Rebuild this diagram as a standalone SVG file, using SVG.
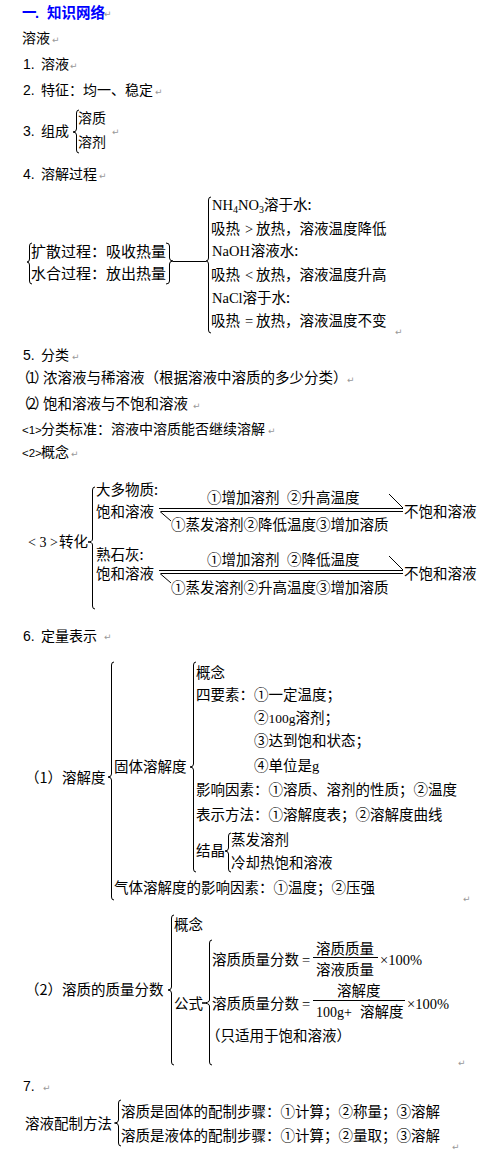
<svg xmlns="http://www.w3.org/2000/svg" width="489" height="1175" viewBox="0 0 489 1175">
<style>
.t{font-family:"Noto Sans CJK SC",sans-serif;font-size:14.5px;fill:#000}
.s14{font-size:14px}
.s15{font-size:15px}
.l{font-family:"Liberation Serif","Noto Sans CJK SC",serif}
.n{font-family:"Liberation Sans","Noto Sans CJK SC",sans-serif}
.ttl{font-weight:bold;fill:#0000ff}
.pm{font-family:"DejaVu Sans",sans-serif;font-size:9px;fill:#999}
.br{fill:none;stroke:#000;stroke-width:1}
.ln{fill:none;stroke:#000;stroke-width:1}
</style>
<rect width="489" height="1175" fill="#fff"/>

<g id="title"><text class="t ttl" x="22" y="18">一<tspan class="n" x="35">.</tspan><tspan x="47">知识网络</tspan></text></g>
<g id="rongye"><text class="t s14" x="22" y="43">溶液</text></g>
<g id="item1"><text class="t s14" y="69"><tspan class="n" x="23">1.</tspan><tspan x="41">溶液</tspan></text></g>
<g id="item2"><text class="t s14" y="95"><tspan class="n" x="23">2.</tspan><tspan x="41">特征：均一、稳定</tspan></text></g>
<g id="item3"><text class="t s14" y="136"><tspan class="n" x="23">3.</tspan><tspan x="41">组成</tspan></text></g>
<g id="item3a"><text class="t s14" x="78" y="123">溶质</text></g>
<g id="item3b"><text class="t s14" x="78" y="147">溶剂</text></g>
<g id="item4"><text class="t s14" y="179"><tspan class="n" x="23">4.</tspan><tspan x="41">溶解过程</tspan></text></g>

<g id="kuosan"><text class="t s15" x="31" y="257">扩散过程：吸收热量</text></g>
<g id="shuihe"><text class="t s15" x="31" y="279">水合过程：放出热量</text></g>
<g id="nh4no3"><text class="t" y="210"><tspan class="l" x="212">NH</tspan><tspan class="l" font-size="10" dy="3">4</tspan><tspan class="l" dy="-3">NO</tspan><tspan class="l" font-size="10" dy="3">3</tspan><tspan dy="-3">溶于水:</tspan></text></g>
<g id="xr1"><text class="t" y="234"><tspan x="211">吸热</tspan><tspan class="l" x="245">&gt;</tspan><tspan x="256">放热，溶液温度降低</tspan></text></g>
<g id="naoh"><text class="t" y="256"><tspan class="l" x="212">NaOH</tspan><tspan dx="1">溶液水:</tspan></text></g>
<g id="xr2"><text class="t" y="280"><tspan x="211">吸热</tspan><tspan class="l" x="245">&lt;</tspan><tspan x="256">放热，溶液温度升高</tspan></text></g>
<g id="nacl"><text class="t" y="303"><tspan class="l" x="212">NaCl</tspan><tspan>溶于水:</tspan></text></g>
<g id="xr3"><text class="t" y="326"><tspan x="211">吸热</tspan><tspan class="l" x="245">=</tspan><tspan x="256">放热，溶液温度不变</tspan></text></g>

<g id="item5"><text class="t s14" y="360"><tspan class="n" x="23">5.</tspan><tspan x="41">分类</tspan></text></g>
<g id="item5-1"><text class="t" y="383" x="16 28 34 43">（1）浓溶液与稀溶液（根据溶液中溶质的多少分类）</text></g>
<g id="item5-2"><text class="t" y="409" x="16 28 34 43">（2）饱和溶液与不饱和溶液</text></g>
<g id="std"><text class="t s14" y="434"><tspan class="n" font-size="11.5" x="22">&lt;1&gt;</tspan><tspan x="41">分类标准：溶液中溶质能否继续溶解</tspan></text></g>
<g id="concept"><text class="t s14" y="457"><tspan class="n" font-size="11.5" x="22">&lt;2&gt;</tspan><tspan x="41">概念</tspan></text></g>

<g id="zhuanhua"><text class="t" y="547"><tspan class="l" font-size="14" x="28">&lt; 3 &gt;</tspan><tspan x="59">转化</tspan></text></g>
<g id="dwz"><text class="t" x="96" y="495">大多物质:</text></g>
<g id="bh1"><text class="t" x="96" y="517">饱和溶液</text></g>
<g id="up1"><text class="t" y="503"><tspan x="207">①增加溶剂</tspan><tspan x="287">②升高温度</tspan></text></g>
<g id="dn1"><text class="t" x="171" y="530">①蒸发溶剂②降低温度③增加溶质</text></g>
<g id="bbh1"><text class="t" x="404" y="517">不饱和溶液</text></g>
<g id="ssh"><text class="t" x="96" y="560">熟石灰:</text></g>
<g id="bh2"><text class="t" x="96" y="579">饱和溶液</text></g>
<g id="up2"><text class="t" y="565"><tspan x="207">①增加溶剂</tspan><tspan x="287">②降低温度</tspan></text></g>
<g id="dn2"><text class="t" x="171" y="593">①蒸发溶剂②升高温度③增加溶质</text></g>
<g id="bbh2"><text class="t" x="404" y="579">不饱和溶液</text></g>

<g id="item6"><text class="t s14" y="641"><tspan class="n" x="23">6.</tspan><tspan x="41">定量表示</tspan></text></g>
<g id="rjd"><text class="t" y="783"><tspan x="25">（1）</tspan><tspan x="62">溶解度</tspan></text></g>
<g id="gtrjd"><text class="t" x="114" y="772">固体溶解度</text></g>
<g id="gn1"><text class="t" x="196" y="678">概念</text></g>
<g id="sys"><text class="t" y="700"><tspan x="196">四要素：</tspan><tspan x="254">①一定温度；</tspan></text></g>
<g id="sys2"><text class="t" y="723"><tspan x="254">②</tspan><tspan class="l" font-size="13.5">100g</tspan><tspan>溶剂；</tspan></text></g>
<g id="sys3"><text class="t" x="254" y="746">③达到饱和状态；</text></g>
<g id="sys4"><text class="t" y="771"><tspan x="254">④单位是</tspan><tspan class="l">g</tspan></text></g>
<g id="yxys"><text class="t" x="196" y="795">影响因素：①溶质、溶剂的性质；②温度</text></g>
<g id="bsff"><text class="t" x="196" y="820">表示方法：①溶解度表；②溶解度曲线</text></g>
<g id="jj"><text class="t" x="196" y="856">结晶</text></g>
<g id="zfrj"><text class="t" x="231" y="845">蒸发溶剂</text></g>
<g id="lqr"><text class="t" x="231" y="868">冷却热饱和溶液</text></g>
<g id="qtrjd"><text class="t" x="114" y="893">气体溶解度的影响因素：①温度；②压强</text></g>

<g id="zlfs"><text class="t" y="995"><tspan x="25">（2）</tspan><tspan x="62">溶质的质量分数</tspan></text></g>
<g id="gn2"><text class="t" x="174" y="930">概念</text></g>
<g id="gs"><text class="t" x="174" y="1009">公式</text></g>
<g id="f1"><text class="t" y="965"><tspan x="212">溶质质量分数</tspan><tspan class="l" x="302">=</tspan></text>
<text class="t" x="316" y="954">溶质质量</text><text class="t" x="316" y="975">溶液质量</text>
<text class="t l" font-size="14" x="380" y="965">×100%</text></g>
<g id="f2"><text class="t" y="1009"><tspan x="212">溶质质量分数</tspan><tspan class="l" x="302">=</tspan></text>
<text class="t" x="337" y="996">溶解度</text><text class="t" y="1017"><tspan class="l" font-size="14" x="316">100g+</tspan><tspan x="360">溶解度</tspan></text>
<text class="t l" font-size="14" x="407" y="1009">×100%</text></g>
<g id="zsy"><text class="t" x="206" y="1041">（只适用于饱和溶液）</text></g>

<g id="item7"><text class="t n s14" x="23" y="1091">7.</text></g>
<g id="pzff"><text class="t" x="25" y="1129">溶液配制方法</text></g>
<g id="pz1"><text class="t" x="121" y="1117">溶质是固体的配制步骤：①计算；②称量；③溶解</text></g>
<g id="pz2"><text class="t" x="121" y="1141">溶质是液体的配制步骤：①计算；②量取；③溶解</text></g>

<g id="marks" class="pm">
<text x="104" y="17">↵</text><text x="52" y="43">↵</text><text x="70" y="69">↵</text><text x="155" y="95">↵</text>
<text x="112" y="135">↵</text><text x="99" y="179">↵</text><text x="395" y="335">↵</text><text x="72" y="360">↵</text>
<text x="347" y="383">↵</text><text x="193" y="409">↵</text><text x="268" y="434">↵</text><text x="71" y="457">↵</text>
<text x="104" y="640">↵</text><text x="463" y="902">↵</text><text x="458" y="1066">↵</text><text x="43" y="1091">↵</text>
<text x="452" y="1150">↵</text>
</g>

<g id="connectors">
<path class="br" d="M79,110 Q76.5,110 76.5,113 L76.5,129 Q76.5,132 73,132 Q76.5,132 76.5,135 L76.5,150 Q76.5,153 79,153"/>
<path class="br" d="M32,243 Q29.5,243 29.5,246 L29.5,259 Q29.5,262 27,262 Q29.5,262 29.5,265 L29.5,281 Q29.5,284 32,284"/>
<path class="br" d="M166,243 Q169.5,243 169.5,246 L169.5,258 Q169.5,261 173,261 Q169.5,261 169.5,264 L169.5,281 Q169.5,284 166,284"/>
<path class="ln" d="M173,261.5 H206"/>
<path class="br" d="M211,197 Q208.5,197 208.5,200 L208.5,258 Q208.5,261 206,261 Q208.5,261 208.5,264 L208.5,330 Q208.5,333 211,333"/>
<path class="br" d="M95,487 Q92.5,487 92.5,490 L92.5,539 Q92.5,542 88,542 Q92.5,542 92.5,545 L92.5,606 Q92.5,609 95,609"/>
<path class="ln" d="M159,508.5 H403 M161,511.5 H403 M389,494 L403,508 M160,511.5 L171,521"/>
<path class="ln" d="M159,570.5 H403 M161,573.5 H403 M389,556 L403,570 M160,573.5 L171,583"/>
<path class="br" d="M114,662 Q111.5,662 111.5,665 L111.5,774 Q111.5,777 108,777 Q111.5,777 111.5,780 L111.5,897 Q111.5,900 114,900"/>
<path class="br" d="M196,662 Q193.5,662 193.5,665 L193.5,764 Q193.5,767 190,767 Q193.5,767 193.5,770 L193.5,869 Q193.5,872 196,872"/>
<path class="br" d="M231,833 Q228.5,833 228.5,836 L228.5,848 Q228.5,851 225,851 Q228.5,851 228.5,854 L228.5,869 Q228.5,872 231,872"/>
<path class="br" d="M174,915 Q171.5,915 171.5,918 L171.5,987 Q171.5,990 168,990 Q171.5,990 171.5,993 L171.5,1062 Q171.5,1065 174,1065"/>
<path class="br" d="M212,940 Q209.5,940 209.5,943 L209.5,1000 Q209.5,1003 202,1003 Q209.5,1003 209.5,1006 L209.5,1062 Q209.5,1065 212,1065"/>
<path class="ln" d="M313,957.5 H378 M313,1000.5 H405"/>
<path class="br" d="M121,1100 Q118.5,1100 118.5,1103 L118.5,1120 Q118.5,1123 114.5,1123 Q118.5,1123 118.5,1126 L118.5,1143 Q118.5,1146 121,1146"/>
</g>
</svg>
